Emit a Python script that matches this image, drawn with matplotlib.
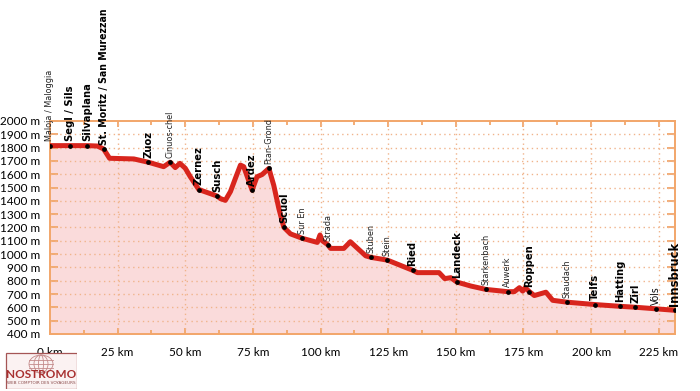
import matplotlib
matplotlib.use("Agg")
import matplotlib.pyplot as plt
from matplotlib.patches import Rectangle, Ellipse
from matplotlib.ticker import MultipleLocator, FuncFormatter


# elevation profile, km from Maloja and metres
profile_km = [0, 7.4, 13.6, 17.5, 19.8, 22, 31, 36.4, 42, 44.4, 46.3, 48, 50,
              51.8, 55, 61.7, 63, 64.8, 66.7, 68.5, 70.4, 71.6, 74.7, 76.5,
              78.4, 80.9, 82.7, 84.6, 86.4, 88.9, 93.2, 98.8, 99.8, 100.6,
              102.7, 103.7, 108.6, 111, 116.7, 118.8, 124.7, 134, 135.8,
              143.8, 145.9, 148.1, 150.4, 155.6, 161.1, 169.1, 171.6, 173.5,
              174.7, 175.6, 177.2, 179, 183.3, 185.8, 191.1, 201.5, 210.7,
              216.3, 224.1, 230.9]
profile_m = [1815, 1815, 1815, 1812, 1790, 1720, 1715, 1690, 1657, 1690, 1650,
             1682, 1645, 1583, 1485, 1437, 1417, 1404, 1470, 1568, 1669, 1657,
             1480, 1581, 1598, 1644, 1517, 1341, 1202, 1152, 1119, 1088, 1144,
             1101, 1070, 1043, 1043, 1093, 987, 975, 955, 879, 861, 861, 816,
             823, 790, 760, 735, 718, 718, 748, 722, 748, 718, 689, 714, 653,
             639, 621, 608, 601, 589, 578]

# stations along the route
station_names = ["Maloja / Maloggia", "Segl / Sils", "Silvaplana",
                 "St. Moritz / San Murezzan", "Zuoz", "Cinuos-chel", "Zernez",
                 "Susch", "Ardez", "Ftan-Grond", "Scuol", "Sur En", "Strada",
                 "Stuben", "Stein", "Ried", "Landeck", "Starkenbach", "Auwerk",
                 "Roppen", "Staudach", "Telfs", "Hatting", "Zirl", "Völs",
                 "Innsbruck"]
station_km = [0, 7.4, 13.6, 19.8, 36.4, 44.4, 55, 61.7, 74.7, 80.9, 86.4,
              93.2, 102.7, 118.8, 124.7, 134, 150.4, 161.1, 169.1, 177.2,
              191.1, 201.5, 210.7, 216.3, 224.1, 230.9]
station_m = [1815, 1815, 1815, 1790, 1690, 1690, 1485, 1437, 1480, 1644, 1202,
             1119, 1070, 975, 955, 879, 790, 735, 718, 718, 639, 621, 608, 601,
             589, 578]
station_kind = ["small", "major", "major", "long", "major", "small", "major",
                "major", "major", "small", "major", "small", "small", "small",
                "small", "major", "major", "small", "small", "major", "small",
                "major", "major", "major", "mid", "end"]

ORANGE = "#f2a66a"
GRID = "#f0b48c"
RED = "#d8251d"
PINK = "#fadbdb"
TICK_FONT = ["Lato", "DejaVu Sans"]

LABEL_STYLE = {
    "small": dict(fontsize=6.5, fontweight="normal", color="#222222"),
    "mid": dict(fontsize=7.5, fontweight="normal", color="#111111"),
    "major": dict(fontsize=8, fontweight="bold", color="black"),
    "long": dict(fontsize=7.6, fontweight="bold", color="black"),
    "end": dict(fontsize=9.2, fontweight="bold", color="black"),
}


def draw_profile(ax):
    ax.fill_between(profile_km, profile_m, 400, color=PINK, lw=0, zorder=1)
    ax.plot(profile_km, profile_m, color=RED, lw=3.6, solid_joinstyle="round",
            solid_capstyle="round", zorder=3)
    ax.plot(station_km, station_m, "o", color="black", ms=2.4, zorder=4)

    for name, km, m, kind in zip(station_names, station_km, station_m,
                                 station_kind):
        ax.annotate(name, (km, m), xytext=(0, 3), textcoords="offset points",
                    rotation=90, ha="center", va="bottom",
                    family="DejaVu Sans", fontstretch="condensed",
                    annotation_clip=False, zorder=5, **LABEL_STYLE[kind])


def style_axes(ax):
    ax.set_xlim(0, 231)
    ax.set_ylim(400, 2000)

    ax.xaxis.set_major_locator(MultipleLocator(25))
    ax.xaxis.set_minor_locator(MultipleLocator(12.5))
    ax.yaxis.set_major_locator(MultipleLocator(100))
    ax.xaxis.set_major_formatter(FuncFormatter(lambda v, _: f"{v:.0f} km"))
    ax.yaxis.set_major_formatter(FuncFormatter(lambda v, _: f"{v:.0f} m"))

    ax.tick_params(axis="x", which="major", direction="in", length=4,
                   width=1.3, color=ORANGE, top=True, pad=9, labelsize=8.5)
    ax.tick_params(axis="x", which="minor", direction="in", length=3,
                   width=1.3, color=ORANGE, top=True)
    ax.tick_params(axis="y", which="major", direction="in", length=6,
                   width=1.3, color=ORANGE, right=True, pad=7, labelsize=8.5)
    for label in ax.get_xticklabels() + ax.get_yticklabels():
        label.set_family(TICK_FONT)

    for spine in ax.spines.values():
        spine.set_color(ORANGE)
        spine.set_linewidth(1.4)

    for y in range(500, 2000, 100):
        ax.axhline(y, color=GRID, lw=1, ls=(0, (1, 2.5)), zorder=2)
    for x in range(25, 231, 25):
        ax.axvline(x, color=GRID, lw=1, ls=(0, (1, 2.5)), zorder=2)


def draw_logo(fig):
    lax = fig.add_axes([5 / 700, 2 / 391, 72 / 700, 37 / 391])
    lax.set_xlim(0, 72)
    lax.set_ylim(0, 37)
    lax.axis("off")
    lax.add_patch(Rectangle((0.5, 0.5), 71, 36, fc="#fbf2f2", ec="#a55555",
                            lw=0.9))
    for w in (24, 14, 5):
        lax.add_patch(Ellipse((36, 25), w, 18, fill=False, ec="#c48a8a",
                              lw=0.6))
    for y in (21, 25, 29):
        lax.plot([24, 48], [y, y], color="#c48a8a", lw=0.6)
    lax.text(36, 14, "NOSTROMO", ha="center", va="center", fontsize=8.5,
             fontweight="bold", color="#a82f2f", family=TICK_FONT)
    lax.text(36, 5.5, "WEB COMPTOIR DES VOYAGEURS", ha="center",
             va="center", fontsize=3, color="#8a4a4a")


def main():
    fig = plt.figure(figsize=(7, 3.91), dpi=100)
    ax = fig.add_axes([50 / 700, 57 / 391, 625 / 700, 213 / 391])

    draw_profile(ax)
    style_axes(ax)
    draw_logo(fig)

    fig.savefig("out.png", dpi=100)


if __name__ == "__main__":
    main()
